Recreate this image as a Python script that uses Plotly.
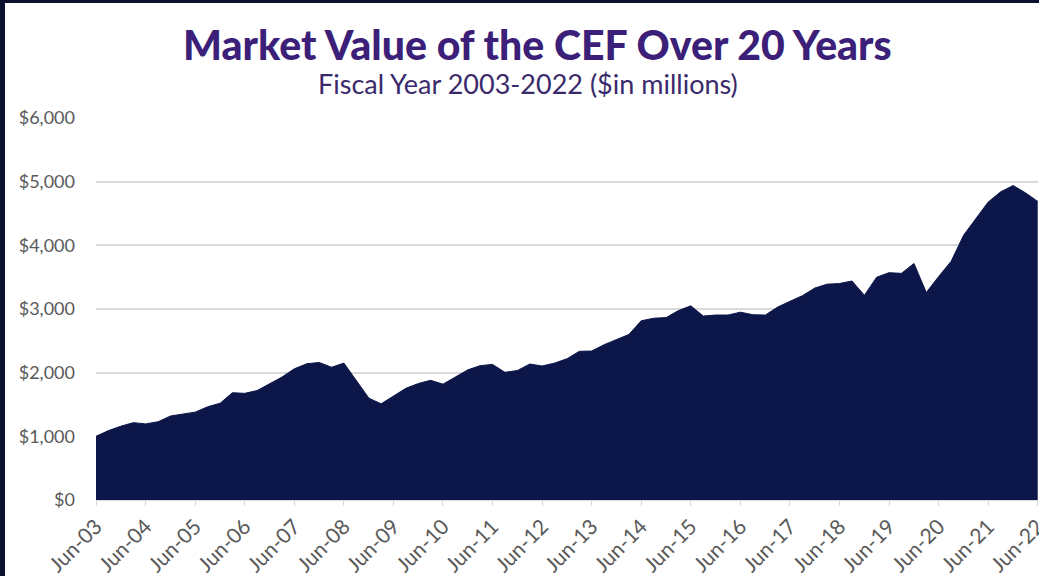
import pandas as pd
import plotly.graph_objects as go

# Quarterly market value ($ millions), Jun-2003 .. Jun-2022
market_value = [
    1000, 1090, 1160, 1215, 1195, 1230, 1320, 1345, 1380, 1465,
    1520, 1685, 1675, 1720, 1820, 1930, 2060, 2140, 2160, 2085,
    2150, 1870, 1600, 1510, 1635, 1755, 1830, 1880, 1820, 1930,
    2045, 2110, 2130, 2005, 2035, 2135, 2105, 2150, 2220, 2335,
    2340, 2440, 2515, 2600, 2815, 2855, 2865, 2975, 3050, 2890,
    2905, 2905, 2950, 2910, 2905, 3030, 3120, 3210, 3330, 3390,
    3400, 3440, 3215, 3500, 3570, 3560, 3715, 3260, 3510, 3750,
    4160, 4420, 4680, 4840, 4940, 4825, 4690,
]
quarters = pd.date_range(start="2003-06-30", periods=len(market_value), freq="QE")
year_labels = ["Jun-03", "Jun-04", "Jun-05", "Jun-06", "Jun-07", "Jun-08", "Jun-09",
               "Jun-10", "Jun-11", "Jun-12", "Jun-13", "Jun-14", "Jun-15", "Jun-16",
               "Jun-17", "Jun-18", "Jun-19", "Jun-20", "Jun-21", "Jun-22"]
year_ticks = list(quarters[::4])
y_ticks = [0, 1000, 2000, 3000, 4000, 5000, 6000]
y_labels = ["$0", "$1,000", "$2,000", "$3,000", "$4,000", "$5,000", "$6,000"]

title_text = "Market Value of the CEF Over 20 Years"
subtitle_text = "Fiscal Year 2003-2022 ($in millions)"

W, H = 1039, 576
ML, MR, MT, MB = 96, 1, 118, 76
PW = W - ML - MR
PH = H - MT - MB

def px_x(x):
    return (x - ML) / PW

def px_y(y):
    return (H - MB - y) / PH

fig = go.Figure()
fig.add_trace(go.Scatter(
    x=quarters, y=market_value, mode="lines", fill="tozeroy",
    line=dict(color="#0c1648", width=1), fillcolor="#0c1648",
    hoverinfo="x+y",
))

dark = "#0a1230"
x_end = quarters[-1] + pd.Timedelta(days=2)
fig.update_layout(
    width=W, height=H,
    margin=dict(l=ML, r=MR, t=MT, b=MB, autoexpand=False),
    paper_bgcolor="white", plot_bgcolor="white",
    showlegend=False,
    font=dict(family="Lato, sans-serif", color="#595959"),
    xaxis=dict(
        range=[quarters[0], x_end], automargin=False,
        tickvals=year_ticks, ticktext=year_labels, tickangle=-45,
        tickfont=dict(size=21, color="#595959", family="Lato"),
        ticklabeloverflow="allow",
        showgrid=False, zeroline=False,
        ticks="outside", ticklen=5, tickcolor="#d9d9d9",
        showline=True, linecolor="#d9d9d9",
    ),
    yaxis=dict(
        range=[0, 6000], tickvals=y_ticks, ticktext=y_labels, automargin=False,
        tickfont=dict(size=18, color="#595959", family="Lato"),
        showgrid=True, gridcolor="#d9d9d9", gridwidth=1.5,
        zeroline=False, ticks="", ticklabelstandoff=20,
    ),
    annotations=[
        dict(text=title_text, xref="paper", yref="paper",
             x=px_x(537), y=px_y(45), xanchor="center", yanchor="middle",
             showarrow=False,
             font=dict(family="Lato", size=41, weight=900, color="#3b1f78")),
        dict(text=subtitle_text, xref="paper", yref="paper",
             x=px_x(528), y=px_y(84), xanchor="center", yanchor="middle",
             showarrow=False, font=dict(family="Lato", size=27, color="#3a2a6c")),
    ],
    shapes=[
        dict(type="rect", xref="paper", yref="paper", layer="above",
             x0=px_x(-2), x1=px_x(5), y0=px_y(H + 2), y1=px_y(-2),
             fillcolor=dark, line=dict(width=0)),
        dict(type="rect", xref="paper", yref="paper", layer="above",
             x0=px_x(-2), x1=px_x(W + 2), y0=px_y(3), y1=px_y(-2),
             fillcolor=dark, line=dict(width=0)),
    ],
)

fig.write_html(
    "out.html",
    config={"displayModeBar": False},
    post_script="document.body.style.margin='0';document.body.style.overflow='hidden';",
)
